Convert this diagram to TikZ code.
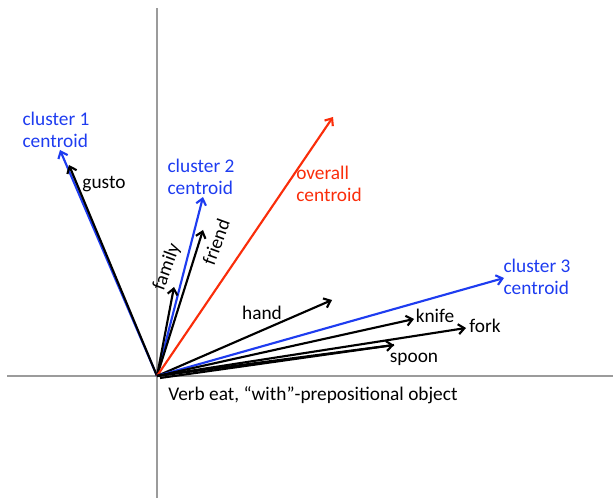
\documentclass[tikz,border=0pt]{standalone}
\usepackage{fontspec}
\setmainfont{Carlito}
\usetikzlibrary{arrows.meta}
\definecolor{cblue}{RGB}{30,60,240}
\definecolor{cred}{RGB}{250,45,10}
\definecolor{axisgray}{RGB}{155,155,155}

\begin{document}
\begin{tikzpicture}[x=0.75pt, y=-0.75pt,
    font=\fontsize{14.5}{16.5}\selectfont,
    vec/.style={-{Straight Barb[length=4.5pt,width=7.5pt]}, line width=1.6pt, black},
    cvec/.style={vec, cblue},
    axis/.style={line width=1.5pt, axisgray},
    lbl/.style={inner sep=0pt, align=left},
    clbl/.style={lbl, text=cblue}]
  \useasboundingbox (0,0) rectangle (613,498);

  % axes
  \coordinate (o)  at (157,376);
  \coordinate (yt) at (157,8);
  \coordinate (yb) at (157,498);
  \coordinate (xl) at (7,376);
  \coordinate (xr) at (613,376);
  \draw[axis] (yb) -- (yt);
  \draw[axis] (xl) -- (xr);

  % vector ends
  \coordinate (c1)     at (60,150);
  \coordinate (gusto)  at (69,165);
  \coordinate (c2)     at (203,197);
  \coordinate (friend) at (203,230);
  \coordinate (family) at (174,287);
  \coordinate (all)    at (333,117);
  \coordinate (hand)   at (332,300);
  \coordinate (c3)     at (504,278);
  \coordinate (knife)  at (414,319);
  \coordinate (fork)   at (466,328);
  \coordinate (spoon)  at (394,345);
  \coordinate (o2)     at (160,378);

  \draw[cvec] (o) -- (c1);
  \draw[vec]  (o) -- (gusto);
  \draw[cvec] (o) -- (c2);
  \draw[vec]  (o) -- (friend);
  \draw[vec]  (o) -- (family);
  \draw[vec, cred] (o) -- (all);
  \draw[vec]  (o) -- (hand);
  \draw[cvec] (o) -- (c3);
  \draw[vec]  (o) -- (knife);
  \draw[vec]  (o) -- (fork);
  \draw[vec]  (o) -- (spoon);
  \draw[line width=1.6pt] (o2) -- (spoon);

  % labels
  \node[clbl] (c1l) at (56,130) {cluster 1\\centroid};
  \node[clbl] (c2l) at (201,177) {cluster 2\\centroid};
  \node[clbl] (c3l) at (537,277) {cluster 3\\centroid};
  \node[lbl, text=cred] (alll) at (329,184) {overall\\centroid};
  \node[lbl] (gustol)  at (104,184) {gusto};
  \node[lbl, rotate=70] (familyl) at (167,267) {family};
  \node[lbl, rotate=70] (friendl) at (216,242) {friend};
  \node[lbl] (handl)  at (262,313) {hand};
  \node[lbl] (knifel) at (435,316) {knife};
  \node[lbl] (forkl)  at (485,326) {fork};
  \node[lbl] (spoonl) at (414,359) {spoon};
  \node[lbl, anchor=west] (title) at (168,395) {Verb eat, “with”-prepositional object};
\end{tikzpicture}
\end{document}
